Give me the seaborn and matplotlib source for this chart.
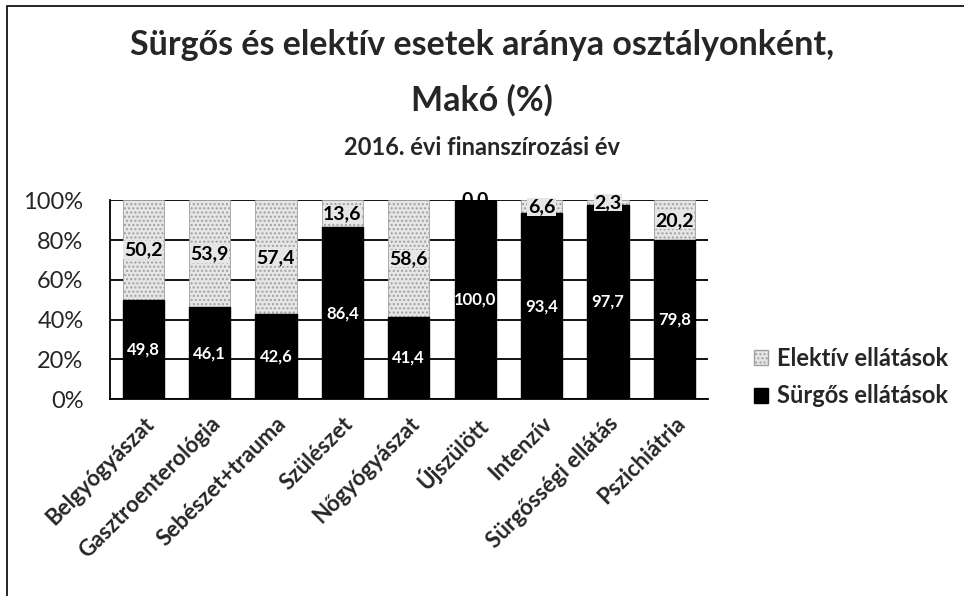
import pandas as pd
import matplotlib.pyplot as plt
import seaborn as sns
from matplotlib.patches import Patch, Rectangle

# data
osztalyok = ['Belgyógyászat', 'Gasztroenterológia', 'Sebészet+trauma', 'Szülészet',
             'Nőgyógyászat', 'Újszülött', 'Intenzív', 'Sürgősségi ellátás', 'Pszichiátria']
surgos = [49.8, 46.1, 42.6, 86.4, 41.4, 100.0, 93.4, 97.7, 79.8]
elektiv = [50.2, 53.9, 57.4, 13.6, 58.6, 0.0, 6.6, 2.3, 20.2]

df = pd.DataFrame({'Osztály': osztalyok, 'Sürgős': surgos, 'Elektív': elektiv})
df['Összes'] = df['Sürgős'] + df['Elektív']

sns.set_style('white')
plt.rcParams['font.family'] = ['Lato', 'DejaVu Sans']

fig = plt.figure(figsize=(9.64, 5.96), dpi=100)
ax = fig.add_axes([0.114, 0.3305, 0.620, 0.3335])

# grey bar = full 100%, black bar laid over it
sns.barplot(data=df, x='Osztály', y='Összes', color='#e6e6e6', width=0.62,
            edgecolor='#a0a0a0', linewidth=0.6, ax=ax, zorder=2)
sns.barplot(data=df, x='Osztály', y='Sürgős', color='black', width=0.62,
            edgecolor='black', ax=ax, zorder=3)
for p in ax.patches[:len(osztalyok)]:
    p.set_hatch('....')

def fmt(v):
    return f'{v:.1f}'.replace('.', ',')

for i, (s, e) in enumerate(zip(surgos, elektiv)):
    ax.text(i, s / 2, fmt(s), ha='center', va='center', color='white',
            fontsize=12, fontweight='bold', zorder=4)
    ax.text(i, s + e / 2 if e > 1 else 100.5, fmt(e), ha='center', va='center',
            color='black', fontsize=14, fontweight='bold', zorder=4,
            bbox=dict(facecolor='#e6e6e6', edgecolor='none', pad=0.3) if e > 1 else None)

ax.set_ylim(0, 100)
ax.set_xlim(-0.5, len(osztalyok) - 0.5)
ax.set_yticks([0, 20, 40, 60, 80, 100])
ax.set_yticklabels(['0%', '20%', '40%', '60%', '80%', '100%'], fontsize=17)
ax.yaxis.grid(True, color='black', linewidth=1.3, zorder=0)
ax.set_axisbelow(True)
ax.set_xlabel('')
ax.set_ylabel('')
ax.set_xticks(range(len(osztalyok)))
ax.set_xticklabels(osztalyok, rotation=45, ha='right', rotation_mode='anchor',
                   fontsize=16, fontweight='bold')
ax.tick_params(axis='y', length=0, pad=19)
ax.tick_params(axis='x', length=0, pad=10)
for side in ['left', 'bottom']:
    ax.spines[side].set_color('black')
    ax.spines[side].set_linewidth(1.3)
ax.spines['top'].set_visible(False)
ax.spines['right'].set_visible(False)

handles = [Patch(facecolor='#e6e6e6', edgecolor='#a0a0a0', hatch='....', label='Elektív ellátások'),
           Patch(facecolor='black', edgecolor='black', label='Sürgős ellátások')]
fig.legend(handles=handles, loc='center left', bbox_to_anchor=(0.772, 0.367),
           frameon=False, prop={'size': 17, 'weight': 'bold'}, handlelength=0.6,
           handleheight=0.6, handletextpad=0.4, labelspacing=0.6, borderaxespad=0)

fig.text(0.5, 0.925, 'Sürgős és elektív esetek aránya osztályonként,', ha='center',
         va='center', fontsize=24.5, fontweight='bold')
fig.text(0.5, 0.832, 'Makó (%)', ha='center', va='center', fontsize=24.5, fontweight='bold')
fig.text(0.5, 0.752, '2016. évi finanszírozási év', ha='center', va='center',
         fontsize=17, fontweight='bold')

fig.patches.append(Rectangle((0.007, -0.01), 1.1, 1.0, transform=fig.transFigure,
                             fill=False, edgecolor='black', linewidth=1.2))

fig.savefig('out.png', dpi=100)
